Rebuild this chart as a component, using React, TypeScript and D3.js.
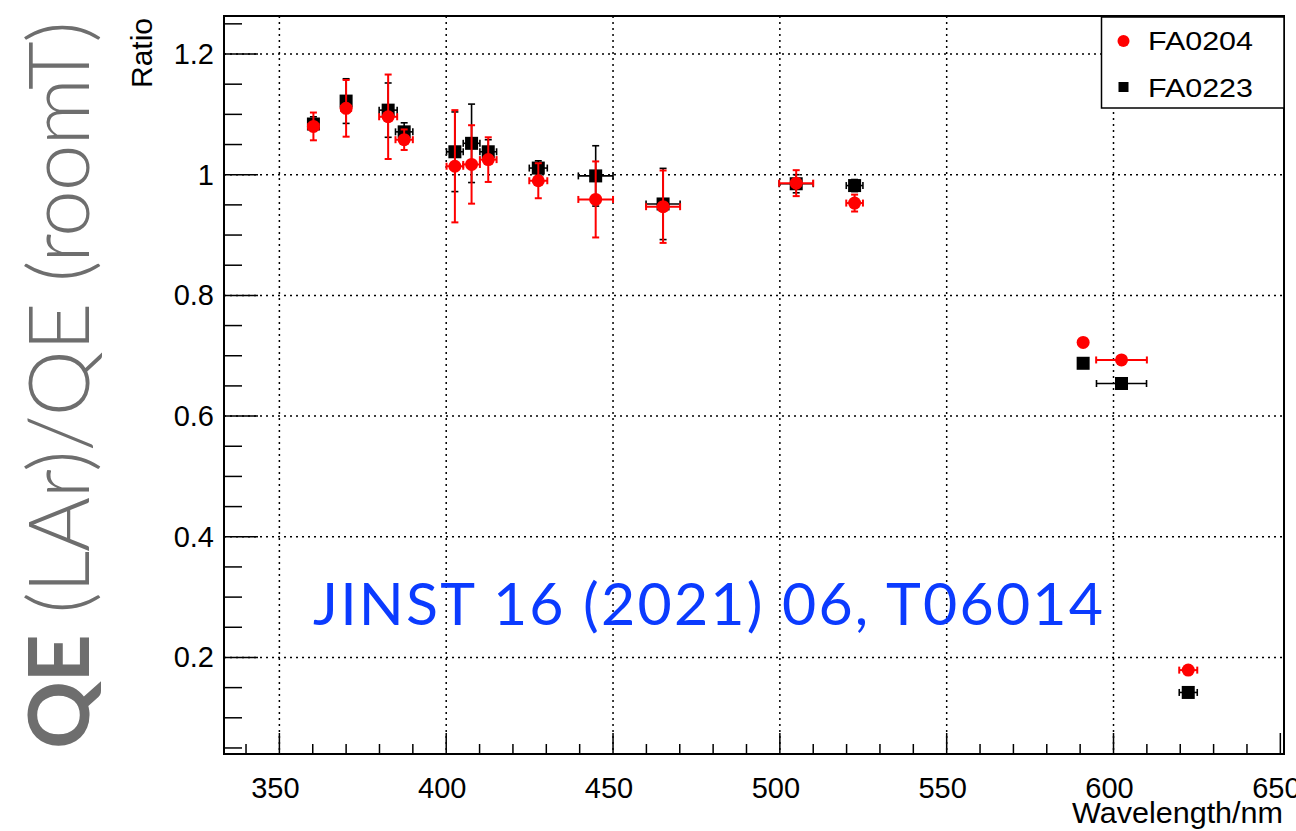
import React, { useRef, useEffect } from 'react';
import * as d3 from 'd3';

// wavelengths (nm) shared by both samples
const wavelength = [360.2, 370, 382.6, 387.4, 402.6, 407.6, 412.6, 427.6, 444.8, 465, 504.9, 522.4, 590.9, 602.4, 622.4];

// FA0204 (red circles)
const ratioFA0204 = [1.080, 1.110, 1.096, 1.058, 1.014, 1.017, 1.025, 0.990, 0.959, 0.947, 0.986, 0.953, 0.722, 0.693, 0.179];
const yErrFA0204 = [0.023, 0.047, 0.07, 0.017, 0.093, 0.065, 0.037, 0.029, 0.063, 0.06, 0.0215, 0.014, 0, 0, 0.006];
const xErrFA0204 = [1.5, 1.5, 2.7, 2.6, 2.5, 2.5, 2.5, 2.7, 5.2, 5.1, 5.1, 2.5, 0, 7.6, 2.7];

// FA0223 (black squares)
const ratioFA0223 = [1.084, 1.122, 1.107, 1.071, 1.038, 1.052, 1.038, 1.011, 0.998, 0.9515, 0.985, 0.982, 0.6875, 0.654, 0.142];
const yErrFA0223 = [0.012, 0.037, 0.045, 0.015, 0.066, 0.065, 0.02, 0.012, 0.05, 0.059, 0.015, 0.01, 0, 0, 0.004];
const xErrFA0223 = [1.5, 1.5, 2.7, 2.6, 2.5, 2.5, 2.5, 2.7, 5.2, 5.1, 5.1, 2.5, 0, 7.5, 2.7];

const xTicks = [350, 400, 450, 500, 550, 600, 650];
const yTicks = [0.2, 0.4, 0.6, 0.8, 1.0, 1.2];

const W = 1296;
const H = 831;
const frame = { left: 224, right: 1284, top: 16, bottom: 754 };

const App = () => {
  const ref = useRef<SVGSVGElement>(null);

  useEffect(() => {
    if (!ref.current) return;
    const svg = d3.select(ref.current);
    svg.selectAll('*').remove();

    const font = '"Liberation Sans", Arial, Helvetica, sans-serif';

    const x = d3.scaleLinear().domain([333.4, 651.1]).range([frame.left, frame.right]);
    const y = d3.scaleLinear().domain([0.04, 1.263]).range([frame.bottom, frame.top]);

    svg.append('rect').attr('width', W).attr('height', H).attr('fill', 'white');

    // grid
    const grid = svg.append('g')
      .attr('stroke', 'black')
      .attr('stroke-width', 1.5)
      .attr('stroke-dasharray', '2,4');
    grid.selectAll('line.gx')
      .data(xTicks.filter(t => x(t) < frame.right - 5))
      .enter().append('line')
      .attr('x1', d => x(d)).attr('x2', d => x(d))
      .attr('y1', frame.top).attr('y2', frame.bottom);
    grid.selectAll('line.gy')
      .data(yTicks)
      .enter().append('line')
      .attr('x1', frame.left).attr('x2', frame.right)
      .attr('y1', d => y(d)).attr('y2', d => y(d));

    // x axis ticks (inside, pointing up)
    const xMinor = d3.range(340, 651, 10);
    svg.append('g')
      .selectAll('line')
      .data(xMinor)
      .enter().append('line')
      .attr('x1', d => x(d)).attr('x2', d => x(d))
      .attr('y1', frame.bottom)
      .attr('y2', d => frame.bottom - (d % 50 === 0 ? 21 : 10))
      .attr('stroke', 'black')
      .attr('stroke-width', 1.5);

    // y axis ticks (inside, pointing right)
    const yMinor = d3.range(1, 26).map(i => i * 0.05);
    svg.append('g')
      .selectAll('line')
      .data(yMinor)
      .enter().append('line')
      .attr('y1', d => y(d)).attr('y2', d => y(d))
      .attr('x1', frame.left)
      .attr('x2', (d, i) => frame.left + ((i + 1) % 4 === 0 ? 34 : 18))
      .attr('stroke', 'black')
      .attr('stroke-width', 1.5);

    // frame
    svg.append('rect')
      .attr('x', frame.left).attr('y', frame.top)
      .attr('width', frame.right - frame.left)
      .attr('height', frame.bottom - frame.top)
      .attr('fill', 'none')
      .attr('stroke', 'black')
      .attr('stroke-width', 2);

    // tick labels
    svg.append('g')
      .selectAll('text')
      .data(xTicks)
      .enter().append('text')
      .attr('x', d => x(d) - 4)
      .attr('y', 798)
      .attr('text-anchor', 'middle')
      .attr('font-family', font)
      .attr('font-size', 29)
      .text(d => d);

    svg.append('g')
      .selectAll('text')
      .data(yTicks)
      .enter().append('text')
      .attr('x', 214)
      .attr('y', d => y(d) + 10)
      .attr('text-anchor', 'end')
      .attr('font-family', font)
      .attr('font-size', 29)
      .text(d => (d === 1 ? '1' : d3.format('.1f')(d)));

    // axis titles
    svg.append('text')
      .attr('x', 1072)
      .attr('y', 823)
      .attr('font-family', font)
      .attr('font-size', 29)
      .attr('textLength', 211)
      .attr('lengthAdjust', 'spacingAndGlyphs')
      .text('Wavelength/nm');

    svg.append('text')
      .attr('transform', `translate(152,88) rotate(-90)`)
      .attr('font-family', font)
      .attr('font-size', 29)
      .attr('textLength', 70)
      .attr('lengthAdjust', 'spacingAndGlyphs')
      .text('Ratio');

    // data series with error bars
    const drawSeries = (vals: number[], ex: number[], ey: number[], color: string, shape: 'circle' | 'square') => {
      const g = svg.append('g');
      const pts = wavelength.map((w, i) => ({ w, v: vals[i], ex: ex[i], ey: ey[i] }));
      const cap = 3.5;
      const sw = color === 'black' ? 1.6 : 2;
      pts.forEach(p => {
        const cx = x(p.w);
        const cy = y(p.v);
        if (p.ey > 0) {
          const y1 = y(p.v + p.ey);
          const y2 = y(p.v - p.ey);
          g.append('line').attr('x1', cx).attr('x2', cx).attr('y1', y1).attr('y2', y2)
            .attr('stroke', color).attr('stroke-width', sw);
          [y1, y2].forEach(yy => {
            g.append('line').attr('x1', cx - cap).attr('x2', cx + cap).attr('y1', yy).attr('y2', yy)
              .attr('stroke', color).attr('stroke-width', sw);
          });
        }
        if (p.ex > 0) {
          const x1 = x(p.w - p.ex);
          const x2 = x(p.w + p.ex);
          g.append('line').attr('x1', x1).attr('x2', x2).attr('y1', cy).attr('y2', cy)
            .attr('stroke', color).attr('stroke-width', sw);
          [x1, x2].forEach(xx => {
            g.append('line').attr('x1', xx).attr('x2', xx).attr('y1', cy - cap).attr('y2', cy + cap)
              .attr('stroke', color).attr('stroke-width', sw);
          });
        }
      });
      if (shape === 'circle') {
        g.selectAll('circle')
          .data(pts)
          .enter().append('circle')
          .attr('cx', d => x(d.w)).attr('cy', d => y(d.v))
          .attr('r', 6.5)
          .attr('fill', color);
      } else {
        g.selectAll('rect')
          .data(pts)
          .enter().append('rect')
          .attr('x', d => x(d.w) - 6.5).attr('y', d => y(d.v) - 6.5)
          .attr('width', 13).attr('height', 13)
          .attr('fill', color);
      }
    };

    drawSeries(ratioFA0223, xErrFA0223, yErrFA0223, 'black', 'square');
    drawSeries(ratioFA0204, xErrFA0204, yErrFA0204, '#ff0000', 'circle');

    // legend
    const leg = svg.append('g');
    leg.append('rect')
      .attr('x', 1101.5).attr('y', 17)
      .attr('width', 1284 - 1101.5).attr('height', 91)
      .attr('fill', 'white')
      .attr('stroke', 'black')
      .attr('stroke-width', 1.5);
    leg.append('circle').attr('cx', 1123.5).attr('cy', 41).attr('r', 6).attr('fill', '#ff0000');
    leg.append('rect').attr('x', 1118.5).attr('y', 82).attr('width', 10).attr('height', 10).attr('fill', 'black');
    leg.append('text').attr('x', 1148).attr('y', 50).attr('font-family', font).attr('font-size', 26)
      .attr('textLength', 105).attr('lengthAdjust', 'spacingAndGlyphs').text('FA0204');
    leg.append('text').attr('x', 1148).attr('y', 97).attr('font-family', font).attr('font-size', 26)
      .attr('textLength', 105).attr('lengthAdjust', 'spacingAndGlyphs').text('FA0223');

    // annotation
    svg.append('text')
      .attr('x', 313)
      .attr('y', 625)
      .attr('font-family', 'Lato, "Open Sans", sans-serif')
      .attr('font-size', 59)
      .attr('fill', '#0b3bff')
      .attr('textLength', 790)
      .attr('lengthAdjust', 'spacing')
      .text('JINST 16 (2021) 06, T06014');

    // big side title
    const side = svg.append('text')
      .attr('transform', 'translate(89,749) rotate(-90)')
      .attr('font-family', 'Lato, "Open Sans", sans-serif')
      .attr('font-size', 84)
      .attr('fill', '#6e6e6e')
      .attr('textLength', 728)
      .attr('lengthAdjust', 'spacing');
    side.append('tspan').attr('font-weight', 700).text('QE');
    side.append('tspan').attr('font-weight', 300).text(' (LAr)/QE (roomT)');
  }, []);

  return (
    <svg
      ref={ref}
      width={W}
      height={H}
      style={{ position: 'absolute', left: 0, top: 0 }}
    />
  );
};

export default App;
